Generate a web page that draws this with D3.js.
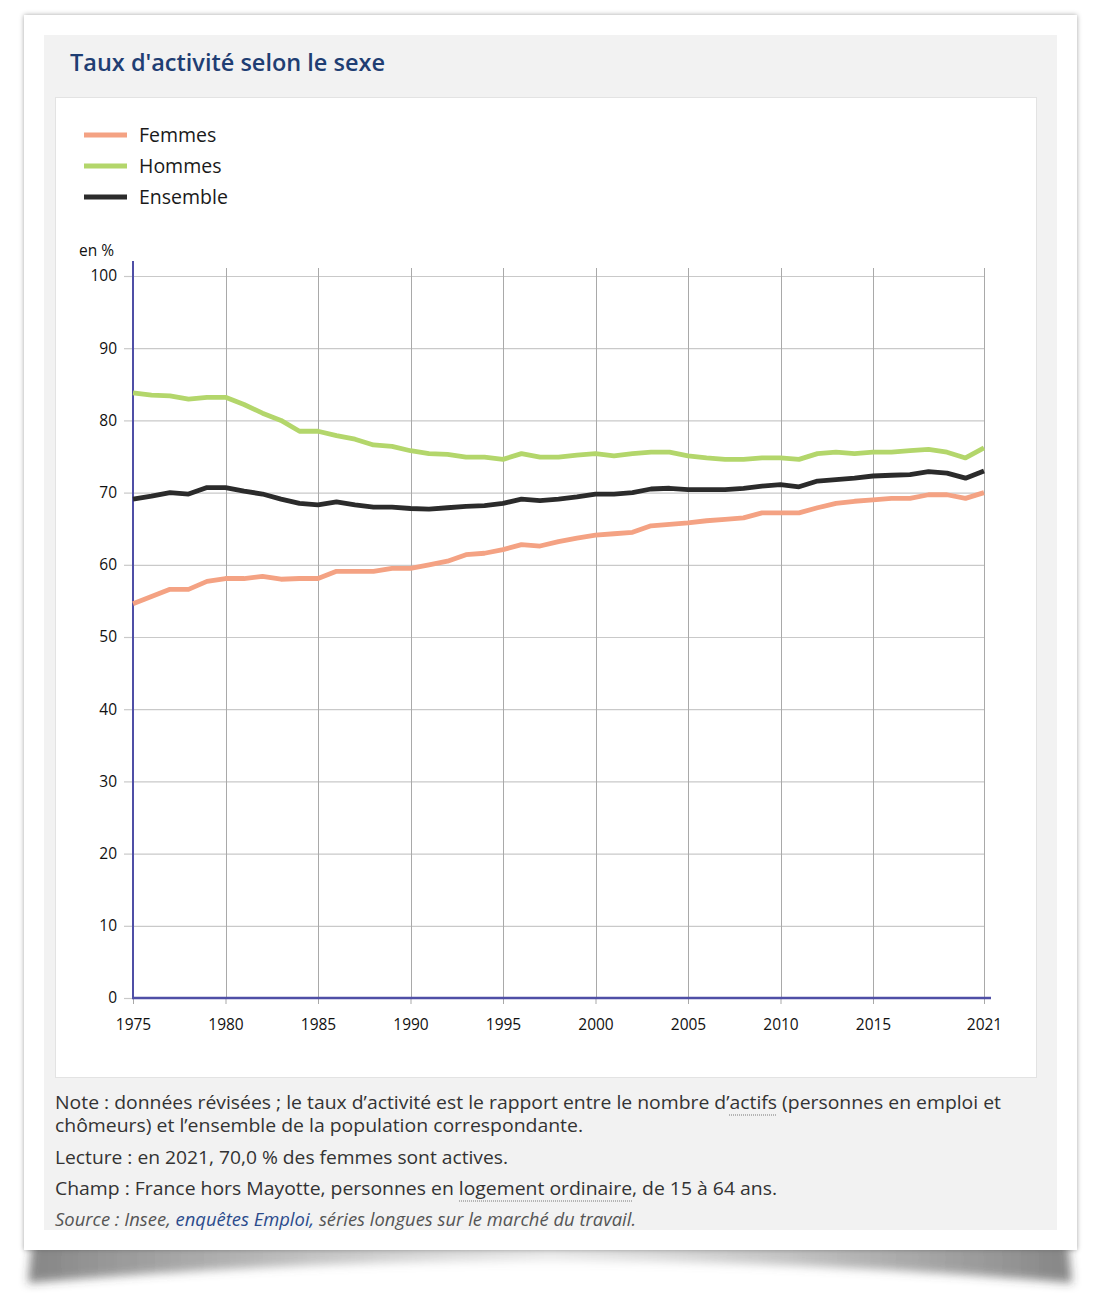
<!DOCTYPE html>
<html><head><meta charset="utf-8">
<script src="https://cdn.jsdelivr.net/npm/d3@7/dist/d3.min.js"></script>
<style>
html,body{margin:0;padding:0;background:#fff;}
svg{display:block;font-family:"Open Sans","Noto Sans",sans-serif;}
</style></head>
<body>
<svg id="c" width="1098" height="1298"></svg>
<script>
const years = d3.range(1975, 2022);
const femmes = [54.6,55.6,56.6,56.6,57.7,58.1,58.1,58.4,58.0,58.1,58.1,59.1,59.1,59.1,59.5,59.5,60.0,60.5,61.4,61.6,62.1,62.8,62.6,63.2,63.7,64.1,64.3,64.5,65.4,65.6,65.8,66.1,66.3,66.5,67.2,67.2,67.2,67.9,68.5,68.8,69.0,69.2,69.2,69.7,69.7,69.2,70.0];
const hommes = [83.8,83.5,83.4,82.95,83.2,83.2,82.2,81.0,80.0,78.5,78.5,77.9,77.4,76.6,76.4,75.8,75.4,75.3,74.9,74.9,74.6,75.4,74.9,74.9,75.2,75.4,75.1,75.4,75.6,75.6,75.1,74.8,74.6,74.6,74.8,74.8,74.6,75.4,75.6,75.4,75.6,75.6,75.8,76.0,75.6,74.8,76.2];
const ensemble = [69.1,69.5,70.0,69.8,70.7,70.7,70.2,69.8,69.1,68.5,68.3,68.7,68.3,68.0,68.0,67.8,67.7,67.9,68.1,68.2,68.5,69.1,68.9,69.1,69.4,69.8,69.8,70.0,70.5,70.6,70.4,70.4,70.4,70.6,70.9,71.1,70.8,71.6,71.8,72.0,72.3,72.4,72.5,72.9,72.7,72.0,73.0];
const seriesNames = ["Femmes","Hommes","Ensemble"];
const seriesColors = ["#f4a283","#b3d66b","#2b2b2b"];
const xTicks = [1975,1980,1985,1990,1995,2000,2005,2010,2015,2021];
const yTicks = [0,10,20,30,40,50,60,70,80,90,100];
const title = "Taux d'activité selon le sexe";

const svg = d3.select("#c");
const defs = svg.append("defs");
const f1 = defs.append("filter").attr("id","curl").attr("x","-10%").attr("y","-100%").attr("width","120%").attr("height","300%");
f1.append("feGaussianBlur").attr("stdDeviation",5);
const f2 = defs.append("filter").attr("id","edge").attr("x","-5%").attr("y","-5%").attr("width","110%").attr("height","110%");
f2.append("feDropShadow").attr("dx",0).attr("dy",0).attr("stdDeviation",2.5).attr("flood-color","#000").attr("flood-opacity",0.35);
const g = defs.append("linearGradient").attr("id","cg").attr("x1","0").attr("x2","1").attr("y1","0").attr("y2","0");
[[0,"#333",0.6],[0.2,"#666",0.5],[0.5,"#999",0.22],[0.8,"#666",0.5],[1,"#333",0.6]].forEach(s=>{
  g.append("stop").attr("offset",s[0]).attr("stop-color",s[1]).attr("stop-opacity",s[2]);
});

// curled shadow under card
svg.append("path")
  .attr("d","M32,1244 L1068,1244 L1072,1283 Q550,1238 28,1283 Z")
  .attr("fill","url(#cg)").attr("filter","url(#curl)");
// card
svg.append("rect").attr("x",24).attr("y",15).attr("width",1053).attr("height",1235)
  .attr("fill","#fff").attr("filter","url(#edge)");
// gray panel
svg.append("rect").attr("x",44).attr("y",35).attr("width",1013).attr("height",1195).attr("fill","#f2f2f2");
// title
svg.append("text").attr("x",70).attr("y",71).attr("fill","#1f3e73")
  .attr("font-size",23.5).attr("font-weight",600).text(title);
// white chart box
svg.append("rect").attr("x",55.5).attr("y",97.5).attr("width",981).attr("height",980)
  .attr("fill","#fff").attr("stroke","#e3e3e3");

// legend
const lg = svg.append("g");
seriesNames.forEach((n,i)=>{
  const yy = 135 + i*31;
  lg.append("line").attr("x1",84).attr("x2",127).attr("y1",yy).attr("y2",yy)
    .attr("stroke",seriesColors[i]).attr("stroke-width",5);
  lg.append("text").attr("x",139).attr("y",yy+7).attr("font-size",19.5).attr("fill","#1a1a1a").text(n);
});

const x = d3.scaleLinear().domain([1975,2021]).range([133,984]);
const y = d3.scaleLinear().domain([0,100]).range([998,276]);

// horizontal grid
svg.append("g").selectAll("line").data(yTicks).join("line")
  .attr("x1",x(1975)).attr("x2",x(2021)).attr("y1",d=>y(d)+0.5).attr("y2",d=>y(d)+0.5)
  .attr("stroke","#c9c9c9").attr("stroke-width",1.2);
// vertical grid
svg.append("g").selectAll("line").data(xTicks).join("line")
  .attr("x1",d=>Math.round(x(d))+0.5).attr("x2",d=>Math.round(x(d))+0.5).attr("y1",y(100)-8).attr("y2",y(0))
  .attr("stroke","#a9a9a9").attr("stroke-width",1);

// y axis
const ya = svg.append("g").attr("transform",`translate(${x(1975)},0)`)
  .call(d3.axisLeft(y).tickValues(yTicks).tickSize(9).tickPadding(7).tickFormat(d3.format("d")));
ya.select(".domain").remove();
ya.selectAll(".tick line").attr("stroke","#c9c9c9").attr("stroke-width",1.2);
ya.selectAll(".tick text").attr("font-size",15.5).attr("fill","#111").attr("font-family","'Open Sans',sans-serif");
svg.append("text").attr("x",79).attr("y",256).attr("font-size",15.5).attr("fill","#111").text("en %");

// x axis
const xa = svg.append("g").attr("transform",`translate(0,${y(0)})`)
  .call(d3.axisBottom(x).tickValues(xTicks).tickSize(6).tickPadding(15).tickFormat(d3.format("d")));
xa.select(".domain").remove();
xa.selectAll(".tick line").attr("stroke","#a9a9a9");
xa.selectAll(".tick text").attr("font-size",15.5).attr("fill","#111").attr("font-family","'Open Sans',sans-serif");

// axis lines
svg.append("line").attr("x1",x(1975)).attr("x2",x(1975)).attr("y1",y(100)-15).attr("y2",y(0))
  .attr("stroke","#4f4fa6").attr("stroke-width",2);
svg.append("line").attr("x1",x(1975)-1).attr("x2",x(2021)+7).attr("y1",y(0)).attr("y2",y(0))
  .attr("stroke","#4f4fa6").attr("stroke-width",2.5);

// lines
const line = d3.line().x((d,i)=>x(years[i])).y(d=>y(d));
[femmes,hommes,ensemble].forEach((s,i)=>{
  svg.append("path").datum(s).attr("d",line).attr("fill","none")
    .attr("stroke",seriesColors[i]).attr("stroke-width",4.8).attr("stroke-linejoin","round");
});

// footer
const ft = svg.append("g").attr("font-size",18.5).attr("fill","#333");
function tline(yy, parts, width, italic){
  const t = ft.append("text").attr("x",55).attr("y",yy).attr("textLength",width).attr("lengthAdjust","spacingAndGlyphs");
  if(italic) t.attr("font-style","italic").attr("fill","#555");
  parts.forEach(p=>{
    const ts = t.append("tspan").text(p.t);
    if(p.c) ts.attr("fill",p.c);
  });
  return t;
}
tline(1109,[{t:"Note : données révisées ; le taux d’activité est le rapport entre le nombre d’actifs (personnes en emploi et"}],946);
tline(1132,[{t:"chômeurs) et l’ensemble de la population correspondante."}],528);
tline(1164,[{t:"Lecture : en 2021, 70,0 % des femmes sont actives."}],453);
tline(1195,[{t:"Champ : France hors Mayotte, personnes en logement ordinaire, de 15 à 64 ans."}],722);
tline(1226,[{t:"Source : Insee, "},{t:"enquêtes Emploi,",c:"#2b4b8c"},{t:" séries longues sur le marché du travail."}],581,true);
// dotted underlines
ft.append("line").attr("x1",729).attr("x2",777).attr("y1",1115).attr("y2",1115).attr("stroke","#777").attr("stroke-dasharray","1,1");
ft.append("line").attr("x1",459).attr("x2",632).attr("y1",1201).attr("y2",1201).attr("stroke","#777").attr("stroke-dasharray","1,1");
</script>
</body></html>
